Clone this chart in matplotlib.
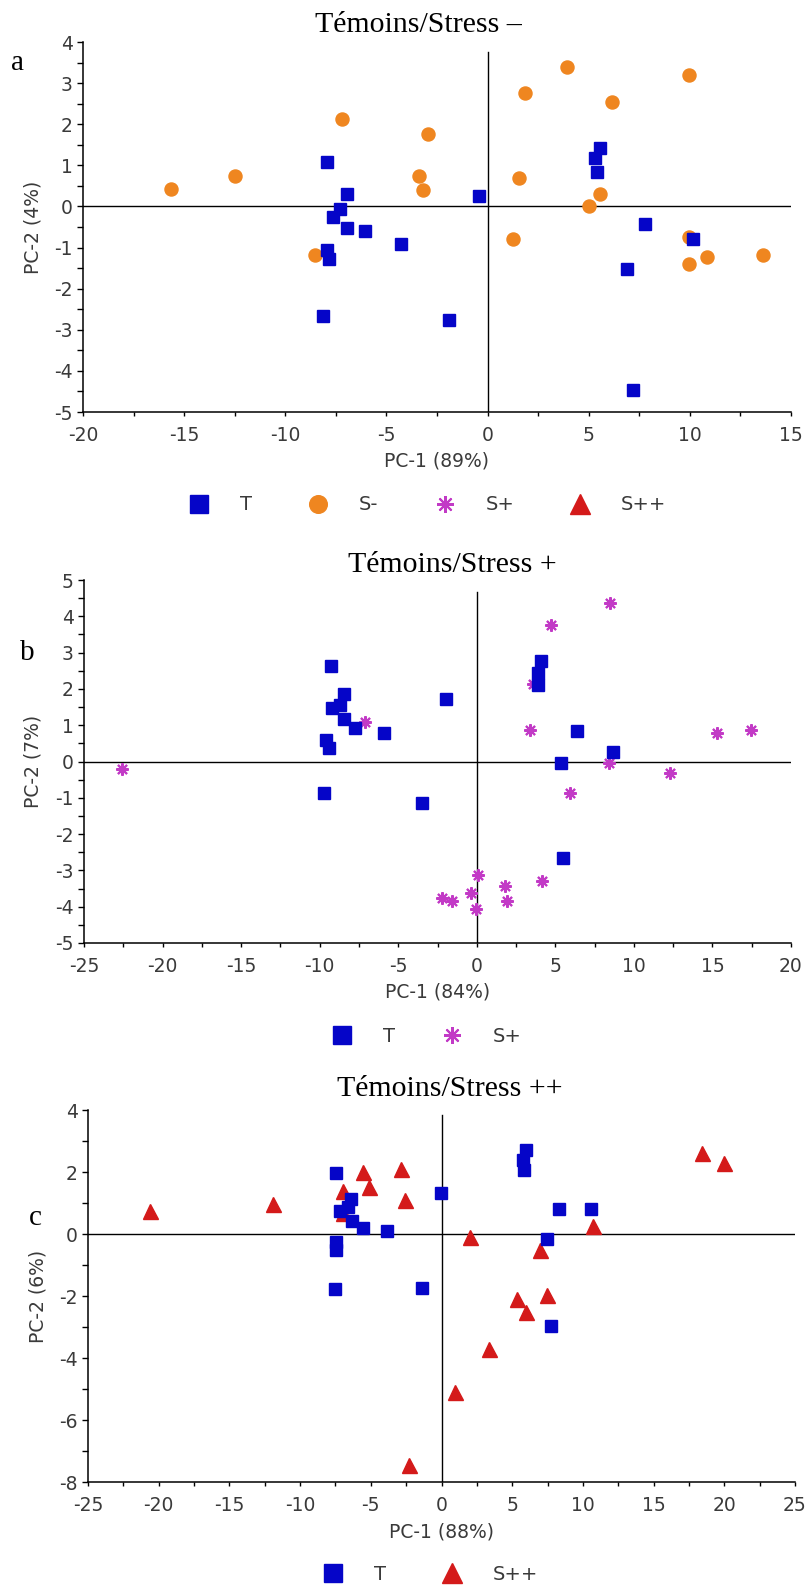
import numpy as np
import matplotlib.pyplot as plt
from matplotlib.lines import Line2D
from matplotlib.ticker import MultipleLocator

plt.rcParams['font.family'] = 'DejaVu Sans'
plt.rcParams['axes.unicode_minus'] = False

# --- Panel a : Témoins / Stress - ---
a_T_x = [-7.96, -6.95, -7.28, -7.66, -6.95, -6.06, -4.27, -7.96, -7.86, -8.14,
         -1.91, -0.43, 5.57, 5.32, 5.39, 7.79, 10.18, 6.90, 7.18]
a_T_y = [1.09, 0.30, -0.07, -0.26, -0.52, -0.60, -0.92, -1.06, -1.28, -2.67,
         -2.77, 0.26, 1.42, 1.19, 0.83, -0.43, -0.79, -1.53, -4.46]
a_Sm_x = [-15.67, -12.49, -7.18, -2.93, -3.38, -3.21, -8.55, 1.83, 3.92, 6.16,
          9.95, 1.53, 5.57, 5.01, 1.25, 9.95, 9.95, 10.84, 13.64]
a_Sm_y = [0.43, 0.74, 2.13, 1.77, 0.75, 0.39, -1.19, 2.76, 3.38, 2.53,
          3.20, 0.69, 0.30, 0.02, -0.78, -0.74, -1.41, -1.22, -1.18]

# --- Panel b : Témoins / Stress + ---
b_T_x = [-9.30, -8.45, -8.71, -9.20, -8.45, -7.73, -5.93, -9.60, -9.43, -9.70,
         -3.47, -1.97, 4.06, 3.90, 3.90, 6.35, 8.65, 5.37, 5.47]
b_T_y = [2.63, 1.86, 1.57, 1.47, 1.18, 0.93, 0.78, 0.59, 0.37, -0.88,
         -1.13, 1.72, 2.76, 2.45, 2.11, 0.83, 0.27, -0.03, -2.67]
b_Sp_x = [-22.57, -7.14, 8.48, 4.72, 3.57, 3.41, 8.39, 12.32, 5.96, 15.26,
          17.43, 0.07, -0.36, -2.23, -1.57, -0.03, 1.77, 1.90, 4.16]
b_Sp_y = [-0.22, 1.08, 4.36, 3.77, 2.13, 0.88, -0.05, -0.31, -0.88, 0.78,
          0.88, -3.12, -3.61, -3.75, -3.85, -4.05, -3.43, -3.85, -3.30]

# --- Panel c : Témoins / Stress ++ ---
c_T_x = [-7.43, -6.37, -6.63, -7.17, -6.34, -5.54, -3.82, -7.43, -7.43, -7.54,
         -1.35, -0.07, 6.01, 5.75, 5.86, 8.30, 10.60, 7.47, 7.76]
c_T_y = [1.98, 1.13, 0.86, 0.74, 0.42, 0.20, 0.11, -0.27, -0.51, -1.79,
         -1.73, 1.31, 2.70, 2.40, 2.08, 0.82, 0.82, -0.15, -2.98]
c_Spp_x = [-20.58, -11.91, -6.99, -6.99, -5.57, -5.13, -2.84, -2.55, 2.04, 6.96,
           10.74, 5.32, 6.01, 7.47, 3.39, 0.95, -2.29, 18.39, 19.96]
c_Spp_y = [0.74, 0.97, 1.39, 0.68, 2.01, 1.53, 2.10, 1.09, -0.10, -0.51,
           0.26, -2.11, -2.53, -1.97, -3.72, -5.09, -7.46, 2.60, 2.30]

titles = ['Témoins/Stress –', 'Témoins/Stress +', 'Témoins/Stress ++']
xlabels = ['PC-1 (89%)', 'PC-1 (84%)', 'PC-1 (88%)']
ylabels = ['PC-2 (4%)', 'PC-2 (7%)', 'PC-2 (6%)']

# styles
BLUE, ORANGE, MAGENTA, RED = '#0505C8', '#EF8620', '#C23AC6', '#D41A1A'
GREY = '#3a3a3a'
sty = {
    'T': dict(marker='s', ms=9.2, color=BLUE, ls='none'),
    'S-': dict(marker='o', ms=9.4, color=ORANGE, ls='none'),
    'S+': dict(marker=(8, 2, 0), ms=9.0, mew=1.5, color=MAGENTA, ls='none'),
    'S++': dict(marker='^', ms=10.8, color=RED, ls='none'),
}

W, H = 807, 1587
fig = plt.figure(figsize=(W / 100, H / 100), dpi=100)


def px_axes(left, top, right, bottom):
    return fig.add_axes([left / W, 1 - bottom / H, (right - left) / W, (bottom - top) / H])


def style_axes(ax, xlim, ylim, ymaj, xlabel, ylabel, vtop):
    ax.set_xlim(xlim)
    ax.set_ylim(ylim)
    ax.xaxis.set_major_locator(MultipleLocator(5))
    ax.xaxis.set_minor_locator(MultipleLocator(2.5))
    ax.yaxis.set_major_locator(MultipleLocator(ymaj))
    ax.yaxis.set_minor_locator(MultipleLocator(ymaj / 2))
    for s in ['top', 'right']:
        ax.spines[s].set_visible(False)
    for s in ['left', 'bottom']:
        ax.spines[s].set_linewidth(1.1)
    ax.tick_params(axis='x', which='both', direction='out', length=3.2, width=1.0,
                   labelsize=13.5, labelcolor=GREY, pad=7)
    ax.tick_params(axis='y', which='both', direction='out', length=4.3, width=1.0,
                   labelsize=13.5, labelcolor=GREY, pad=3)
    ax.axhline(0, color='black', lw=1.0, zorder=1)
    ax.axvline(0, ymin=0, ymax=(vtop - ylim[0]) / (ylim[1] - ylim[0]), color='black', lw=1.0, zorder=1)
    ax.set_xlabel(xlabel, fontsize=13.5, color=GREY)
    ax.set_ylabel(ylabel, fontsize=13.5, color=GREY)
    ax.xaxis.label.set_va('center')
    ax.yaxis.label.set_va('center')


def legend(handles, labels, cx, cy, colsp):
    fig.legend(handles, labels, loc='center', bbox_to_anchor=(cx / W, 1 - cy / H),
               ncol=len(labels), frameon=False, markerscale=1.35, handlelength=1.0,
               handletextpad=1.6, columnspacing=colsp, fontsize=14, labelcolor=GREY)


def proxy(key):
    return Line2D([], [], **sty[key])


# panel a
ax = px_axes(83, 42, 791, 412)
ax.plot(a_Sm_x, a_Sm_y, **sty['S-'], zorder=3)
ax.plot(a_T_x, a_T_y, **sty['T'], zorder=3)
style_axes(ax, (-20, 15), (-5, 4), 1, xlabels[0], ylabels[0], 3.75)
ax.xaxis.set_label_coords(0.5, -(461 - 412) / 370)
ax.yaxis.set_label_coords(-(83 - 33) / 708, 0.5)
fig.text(418 / W, 1 - 25 / H, titles[0], family='Liberation Serif', fontsize=21.5,
         ha='center', va='center')
fig.text(18 / W, 1 - 63 / H, 'a', family='Liberation Serif', fontsize=21, ha='center', va='center')
legend([proxy(k) for k in ['T', 'S-', 'S+', 'S++']], ['T', 'S-', 'S+', 'S++'], 428, 505, 2.9)

# panel b
ax = px_axes(84, 580, 791, 943)
ax.plot(b_Sp_x, b_Sp_y, **sty['S+'], zorder=3)
ax.plot(b_T_x, b_T_y, **sty['T'], zorder=3)
style_axes(ax, (-25, 20), (-5, 5), 1, xlabels[1], ylabels[1], 4.67)
ax.xaxis.set_label_coords(0.5, -(992 - 943) / 363)
ax.yaxis.set_label_coords(-(84 - 33) / 707, 0.5)
fig.text(452 / W, 1 - 565 / H, titles[1], family='Liberation Serif', fontsize=21.5,
         ha='center', va='center')
fig.text(27 / W, 1 - 653 / H, 'b', family='Liberation Serif', fontsize=21, ha='center', va='center')
legend([proxy('T'), proxy('S+')], ['T', 'S+'], 427, 1036, 2.4)

# panel c
ax = px_axes(88, 1110, 795, 1482)
ax.plot(c_Spp_x, c_Spp_y, **sty['S++'], zorder=3)
ax.plot(c_T_x, c_T_y, **sty['T'], zorder=3)
style_axes(ax, (-25, 25), (-8, 4), 2, xlabels[2], ylabels[2], 3.84)
ax.xaxis.set_label_coords(0.5, -(1532 - 1482) / 372)
ax.yaxis.set_label_coords(-(88 - 38) / 707, 0.5)
fig.text(450 / W, 1 - 1089 / H, titles[2], family='Liberation Serif', fontsize=21.5,
         ha='center', va='center')
fig.text(35 / W, 1 - 1218 / H, 'c', family='Liberation Serif', fontsize=21, ha='center', va='center')
legend([proxy('T'), proxy('S++')], ['T', 'S++'], 431, 1574, 2.9)

fig.savefig('out.png', dpi=100)
